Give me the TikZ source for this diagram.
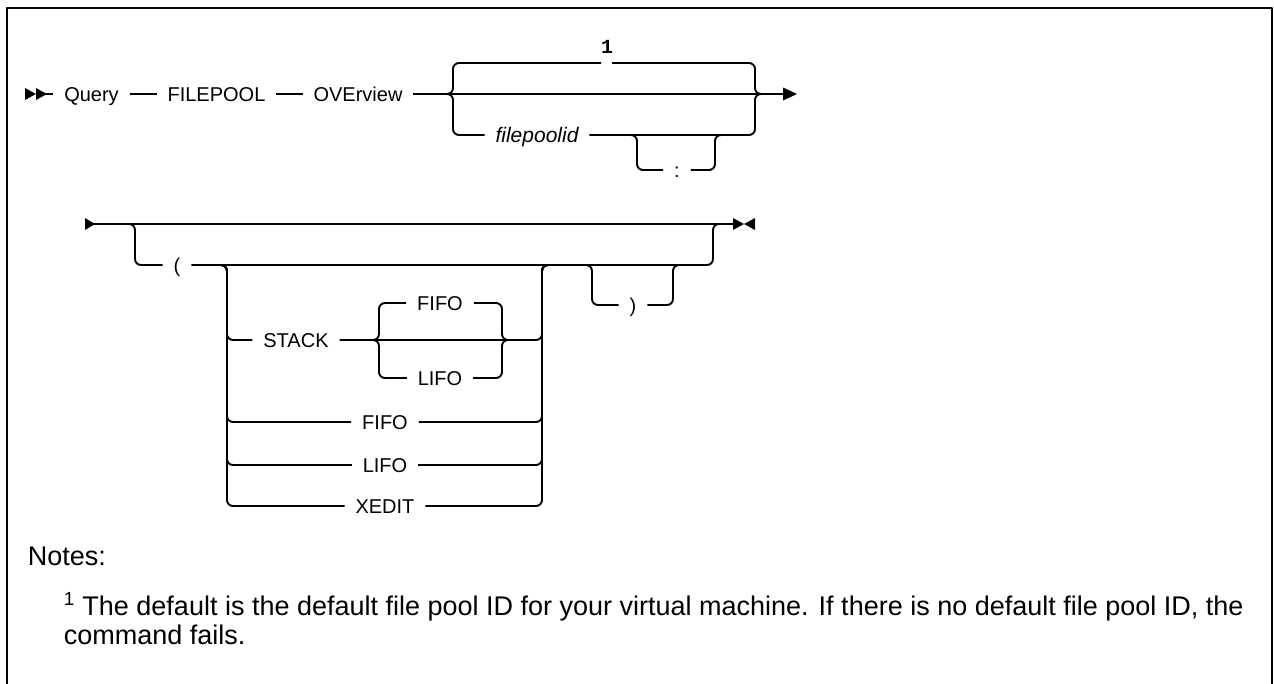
\documentclass[tikz,border=0pt]{standalone}
\usepackage{fontspec}
\setmainfont{Liberation Sans}
\newfontfamily\footmono{Liberation Mono}
\begin{document}
\begin{tikzpicture}[x=1pt,y=-1pt,line width=1.9pt,line join=round,
  lbl/.style={font=\fontsize{20}{24}\selectfont, inner xsep=11pt, inner ysep=0pt,
              text height=14.3pt, text depth=0pt, outer sep=0pt},
  railcorner/.style={rounded corners=6pt},
  tipfill/.style={fill=black, draw=none},
  notefont/.style={anchor=base west, inner sep=0pt, font=\fontsize{27}{29}\selectfont}]
\useasboundingbox (0,0) rectangle (1274,683);
% frame
\draw[line width=2.6pt] (7,690) -- (7,8) -- (1272,8) -- (1272,690);

% ---------- row 1 ----------
\fill[tipfill] (25,88) -- (36,94) -- (25,100) -- cycle;
\fill[tipfill] (36,88) -- (47,94) -- (36,100) -- cycle;
\coordinate (start1) at (46,94);
\coordinate (end1) at (784,94);
\fill[tipfill] (783,87.5) -- (797,94) -- (783,100.5) -- cycle;

\node[lbl] (query) at (91.5,94) {Query};
\node[lbl] (filepool) at (216.5,94) {FILEPOOL};
\node[lbl] (overview) at (358,94) {OVErview};
\draw (start1) -- (query);
\draw (query) -- (filepool);
\draw (filepool) -- (overview);
\draw (overview) -- (end1);

% default branch (footnote 1)
\node[font=\footmono\bfseries\fontsize{20}{24}\selectfont, inner sep=0pt] (fn1) at (607,47) {1};
\draw[railcorner] (441,94) -| (453,63) -- (601,63);
\draw[railcorner] (612,63) -| (755,94) -- (767,94);

% filepoolid branch
\node[lbl, font=\itshape\fontsize{21}{24}\selectfont] (fpid) at (537,135) {filepoolid};
\draw[railcorner] (441,94) -| (453,135) -- (fpid.west);
\draw[railcorner] (fpid.east) -| (755,94) -- (767,94);

% optional colon
\node[lbl] (colon) at (677,170) {:};
\draw[railcorner] (625,135) -| (637,170) -- (colon.west);
\draw[railcorner] (colon.east) -| (715,135) -- (727,135);

% ---------- row 2 ----------
\fill[tipfill] (85,218) -- (95,224) -- (85,230) -- cycle;
\coordinate (start2) at (94,224);
\coordinate (end2) at (734,224);
\draw (start2) -- (end2);
\fill[tipfill] (733,218) -- (744,224) -- (733,230) -- cycle;
\fill[tipfill] (755,218) -- (744,224) -- (755,230) -- cycle;

\node[lbl] (lp) at (177,265) {(};
\draw[railcorner] (123,224) -| (135,265) -- (lp.west);
\draw[railcorner] (lp.east) -| (713,224) -- (725,224);

% options group
\node[lbl] (stack) at (296,340) {STACK};
\node[lbl] (ififo) at (440,303) {FIFO};
\node[lbl] (ilifo) at (440,378) {LIFO};
\node[lbl] (fifo) at (385,422) {FIFO};
\node[lbl] (lifo) at (385,465) {LIFO};
\node[lbl] (xedit) at (385,506) {XEDIT};
\foreach \n/\r in {stack/340, fifo/422, lifo/465, xedit/506} {
  \draw[railcorner] (215,265) -| (227,\r) -- (\n.west);
  \draw[railcorner] (\n.east) -| (542,265) -- (554,265);
}
\draw[railcorner] (367,340) -| (379,303) -- (ififo.west);
\draw[railcorner] (367,340) -| (379,378) -- (ilifo.west);
\draw[railcorner] (ififo.east) -| (502,340) -- (514,340);
\draw[railcorner] (ilifo.east) -| (502,340) -- (514,340);

% optional close paren
\node[lbl] (rp) at (633,305) {)};
\draw[railcorner] (580,265) -| (592,305) -- (rp.west);
\draw[railcorner] (rp.east) -| (673,265) -- (685,265);

% ---------- notes ----------
\node[notefont] (notes) at (27,565) {Notes:};
\node[notefont] (note1) at (63,615) {\textsuperscript{1} The default is the default file pool ID for your virtual machine. If there is no default file pool ID, the};
\node[notefont] (note2) at (63,644) {command fails.};
\end{tikzpicture}
\end{document}
